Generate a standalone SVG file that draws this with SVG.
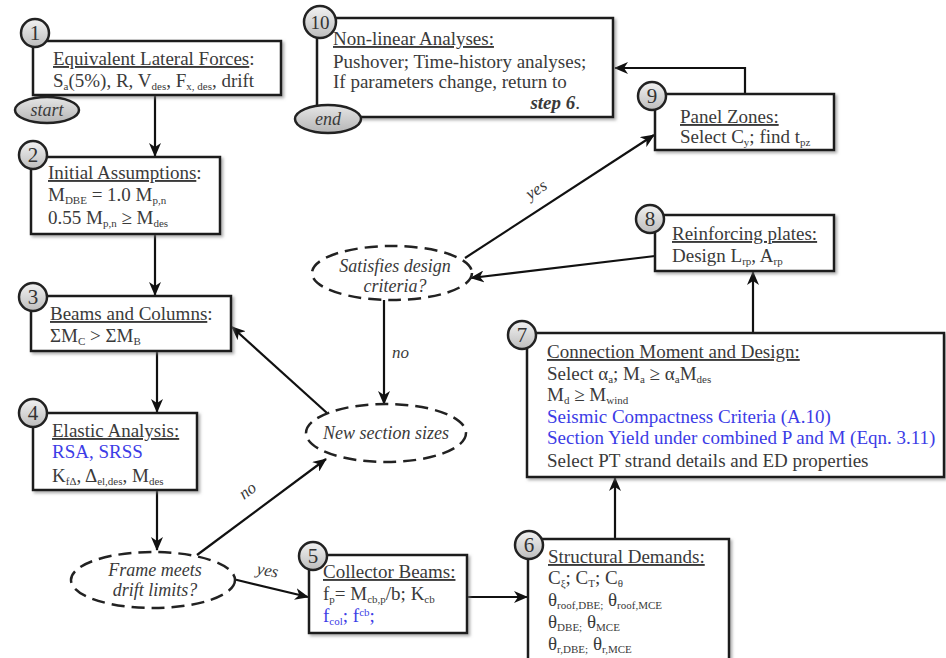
<svg xmlns="http://www.w3.org/2000/svg" width="946" height="658" viewBox="0 0 946 658">
<defs>
<style>
.t{font-family:"Liberation Serif","Times New Roman",serif;font-size:19px;fill:#3a3a3a}
.b{fill:#3c3ce6}
.u{text-decoration:underline}
.sb{font-size:11px}
.box{fill:#fff;stroke:#1a1a1a;stroke-width:2.5}
.num{fill:url(#g);stroke:#222;stroke-width:2.5}
.nt{font-family:"Liberation Serif",serif;font-size:21px;fill:#333;text-anchor:middle}
.dec{fill:#fff;stroke:#222;stroke-width:2.5;stroke-dasharray:13 7}
.it{font-family:"Liberation Serif",serif;font-style:italic;font-size:18px;fill:#3a3a3a;text-anchor:middle}
.lbl{font-family:"Liberation Serif",serif;font-style:italic;font-size:17px;fill:#3a3a3a}
.term{fill:url(#g2);stroke:#222;stroke-width:2.5}
.c{fill:none;stroke:#111;stroke-width:2.2;marker-end:url(#arr)}
</style>
<linearGradient id="g" x1="0" y1="0" x2="0" y2="1"><stop offset="0" stop-color="#f2f2f2"/><stop offset="1" stop-color="#bdbdbd"/></linearGradient>
<linearGradient id="g2" x1="0" y1="0" x2="0" y2="1"><stop offset="0" stop-color="#e6e6e6"/><stop offset="1" stop-color="#b5b5b5"/></linearGradient>
<filter id="sh" x="-5%" y="-5%" width="115%" height="120%"><feDropShadow dx="2" dy="2" stdDeviation="1.5" flood-color="#777" flood-opacity="0.6"/></filter>
<marker id="arr" viewBox="0 0 14 12" refX="13" refY="6" markerWidth="14" markerHeight="12" markerUnits="userSpaceOnUse" orient="auto"><path d="M0,0 L14,6 L0,12 L4,6 z" fill="#111"/></marker>
</defs>

<g id="connectors">
<path class="c" d="M155,95 L155,156"/>
<path class="c" d="M155,234 L155,295"/>
<path class="c" d="M157,351 L157,412"/>
<path class="c" d="M157,490 L157,550"/>
<path class="c" d="M197,555 L326,459"/>
<path class="c" d="M233,579 L308,597"/>
<path class="c" d="M467,597 L527,597"/>
<path class="c" d="M615,539 L615,478"/>
<path class="c" d="M753,333 L753,272"/>
<path class="c" d="M655,256 L471,278"/>
<path class="c" d="M465,258 L654,135"/>
<path class="c" d="M384,300 L384,404"/>
<path class="c" d="M327,413 L232,327"/>
<path class="c" d="M745,94 L745,68 L615,68"/>
<text class="lbl" transform="translate(244,500) rotate(-37)">no</text>
<text class="lbl" transform="translate(256,574) rotate(10)">yes</text>
<text class="lbl" transform="translate(530,200) rotate(-33)">yes</text>
<text class="lbl" x="392" y="358">no</text>
</g>

<g id="node1">
<rect class="box" filter="url(#sh)" x="33" y="41" width="248" height="54"/>
<text class="t" x="53" y="65"><tspan class="u">Equivalent Lateral Forces</tspan>:</text>
<text class="t" x="53" y="87">S<tspan class="sb" dy="3">a</tspan><tspan dy="-3">(5%), R, V</tspan><tspan class="sb" dy="3">des</tspan><tspan dy="-3">, F</tspan><tspan class="sb" dy="3">x, des</tspan><tspan dy="-3">, drift</tspan></text>
<circle class="num" cx="35" cy="33" r="14"/>
<text class="nt" x="35" y="40">1</text>
<ellipse class="term" cx="47" cy="110" rx="32" ry="13"/>
<text class="it" x="47" y="116">start</text>
</g>

<g id="node2">
<rect class="box" filter="url(#sh)" x="31" y="157" width="189" height="77"/>
<text class="t" x="48" y="179"><tspan class="u">Initial Assumptions</tspan>:</text>
<text class="t" x="48" y="201">M<tspan class="sb" dy="3">DBE</tspan><tspan dy="-3"> = 1.0 M</tspan><tspan class="sb" dy="3">p,n</tspan></text>
<text class="t" x="48" y="224">0.55 M<tspan class="sb" dy="3">p,n</tspan><tspan dy="-3"> ≥ M</tspan><tspan class="sb" dy="3">des</tspan></text>
<circle class="num" cx="33" cy="155" r="14"/>
<text class="nt" x="33" y="162">2</text>
</g>

<g id="node3">
<rect class="box" filter="url(#sh)" x="31" y="296" width="200" height="55"/>
<text class="t" x="50" y="320"><tspan class="u">Beams and Columns</tspan>:</text>
<text class="t" x="50" y="342">ΣM<tspan class="sb" dy="3">C</tspan><tspan dy="-3"> &gt; ΣM</tspan><tspan class="sb" dy="3">B</tspan></text>
<circle class="num" cx="33" cy="297" r="14"/>
<text class="nt" x="33" y="304">3</text>
</g>

<g id="node4">
<rect class="box" filter="url(#sh)" x="33" y="413" width="164" height="77"/>
<text class="t u" x="52" y="437">Elastic Analysis:</text>
<text class="t b" x="52" y="458">RSA, SRSS</text>
<text class="t" x="52" y="482">K<tspan class="sb" dy="3">fΔ</tspan><tspan dy="-3">, Δ</tspan><tspan class="sb" dy="3">el,des</tspan><tspan dy="-3">, M</tspan><tspan class="sb" dy="3">des</tspan></text>
<circle class="num" cx="33" cy="413" r="14"/>
<text class="nt" x="33" y="420">4</text>
</g>

<g id="frame-meets">
<ellipse class="dec" cx="153" cy="580" rx="82" ry="28"/>
<text class="it" x="155" y="576">Frame meets</text>
<text class="it" x="155" y="596">drift limits?</text>
</g>

<g id="node5">
<rect class="box" filter="url(#sh)" x="309" y="555" width="158" height="78"/>
<text class="t u" x="323" y="578">Collector Beams:</text>
<text class="t" x="323" y="600">f<tspan class="sb" dy="3">p</tspan><tspan dy="-3">= M</tspan><tspan class="sb" dy="3">cb,p</tspan><tspan dy="-3">/b; K</tspan><tspan class="sb" dy="3">cb</tspan></text>
<text class="t b" x="323" y="622">f<tspan class="sb" dy="3">col</tspan><tspan dy="-3">; f</tspan><tspan class="sb" dy="-6">cb</tspan><tspan dy="6">;</tspan></text>
<circle class="num" cx="313" cy="556" r="14"/>
<text class="nt" x="313" y="563">5</text>
</g>

<g id="node6">
<rect class="box" filter="url(#sh)" x="528" y="539" width="201" height="125"/>
<text class="t u" x="548" y="563">Structural Demands:</text>
<text class="t" x="548" y="584">C<tspan class="sb" dy="3">ξ</tspan><tspan dy="-3">; C</tspan><tspan class="sb" dy="3">T</tspan><tspan dy="-3">; C</tspan><tspan class="sb" dy="3">θ</tspan></text>
<text class="t" x="548" y="606">θ<tspan class="sb" dy="3">roof,DBE;</tspan><tspan dy="-3"> θ</tspan><tspan class="sb" dy="3">roof,MCE</tspan></text>
<text class="t" x="548" y="628">θ<tspan class="sb" dy="3">DBE;</tspan><tspan dy="-3"> θ</tspan><tspan class="sb" dy="3">MCE</tspan></text>
<text class="t" x="548" y="650">θ<tspan class="sb" dy="3">r,DBE;</tspan><tspan dy="-3"> θ</tspan><tspan class="sb" dy="3">r,MCE</tspan></text>
<circle class="num" cx="529" cy="545" r="14"/>
<text class="nt" x="529" y="552">6</text>
</g>

<g id="node7">
<rect class="box" filter="url(#sh)" x="527" y="333" width="417" height="144"/>
<text class="t u" x="547" y="358">Connection Moment and Design:</text>
<text class="t" x="547" y="380">Select α<tspan class="sb" dy="3">a</tspan><tspan dy="-3">; M</tspan><tspan class="sb" dy="3">a</tspan><tspan dy="-3"> ≥ α</tspan><tspan class="sb" dy="3">a</tspan><tspan dy="-3">M</tspan><tspan class="sb" dy="3">des</tspan></text>
<text class="t" x="547" y="401">M<tspan class="sb" dy="3">d</tspan><tspan dy="-3"> ≥ M</tspan><tspan class="sb" dy="3">wind</tspan></text>
<text class="t b" x="547" y="423">Seismic Compactness Criteria (A.10)</text>
<text class="t b" x="547" y="444">Section Yield under combined P and M (Eqn. 3.11)</text>
<text class="t" x="547" y="467">Select PT strand details and ED properties</text>
<circle class="num" cx="522" cy="335" r="14"/>
<text class="nt" x="522" y="342">7</text>
</g>

<g id="node8">
<rect class="box" filter="url(#sh)" x="655" y="215" width="179" height="56"/>
<text class="t u" x="672" y="240">Reinforcing plates:</text>
<text class="t" x="672" y="262">Design L<tspan class="sb" dy="3">rp</tspan><tspan dy="-3">, A</tspan><tspan class="sb" dy="3">rp</tspan></text>
<circle class="num" cx="650" cy="219" r="14"/>
<text class="nt" x="650" y="226">8</text>
</g>

<g id="satisfies">
<ellipse class="dec" cx="392" cy="273" rx="80" ry="27"/>
<text class="it" x="395" y="272">Satisfies design</text>
<text class="it" x="395" y="292">criteria?</text>
</g>

<g id="new-sections">
<ellipse class="dec" cx="386" cy="433" rx="80" ry="29"/>
<text class="it" x="386" y="439">New section sizes</text>
</g>

<g id="node9">
<rect class="box" filter="url(#sh)" x="655" y="94" width="179" height="56"/>
<text class="t u" x="680" y="123">Panel Zones:</text>
<text class="t" x="680" y="143">Select C<tspan class="sb" dy="3">y</tspan><tspan dy="-3">; find t</tspan><tspan class="sb" dy="3">pz</tspan></text>
<circle class="num" cx="652" cy="96" r="14"/>
<text class="nt" x="652" y="103">9</text>
</g>

<g id="node10">
<rect class="box" filter="url(#sh)" x="317" y="18" width="296" height="99"/>
<text class="t u" x="333" y="45">Non-linear Analyses:</text>
<text class="t" x="333" y="68">Pushover; Time-history analyses;</text>
<text class="t" x="333" y="88">If parameters change, return to</text>
<text class="t" x="580" y="109" text-anchor="end"><tspan font-weight="bold" font-style="italic">step 6</tspan>.</text>
<circle class="num" cx="320" cy="22" r="16"/>
<text class="nt" x="320" y="29" style="font-size:19px">10</text>
<ellipse class="term" cx="328" cy="119" rx="33" ry="14"/>
<text class="it" x="328" y="125">end</text>
</g>
</svg>
